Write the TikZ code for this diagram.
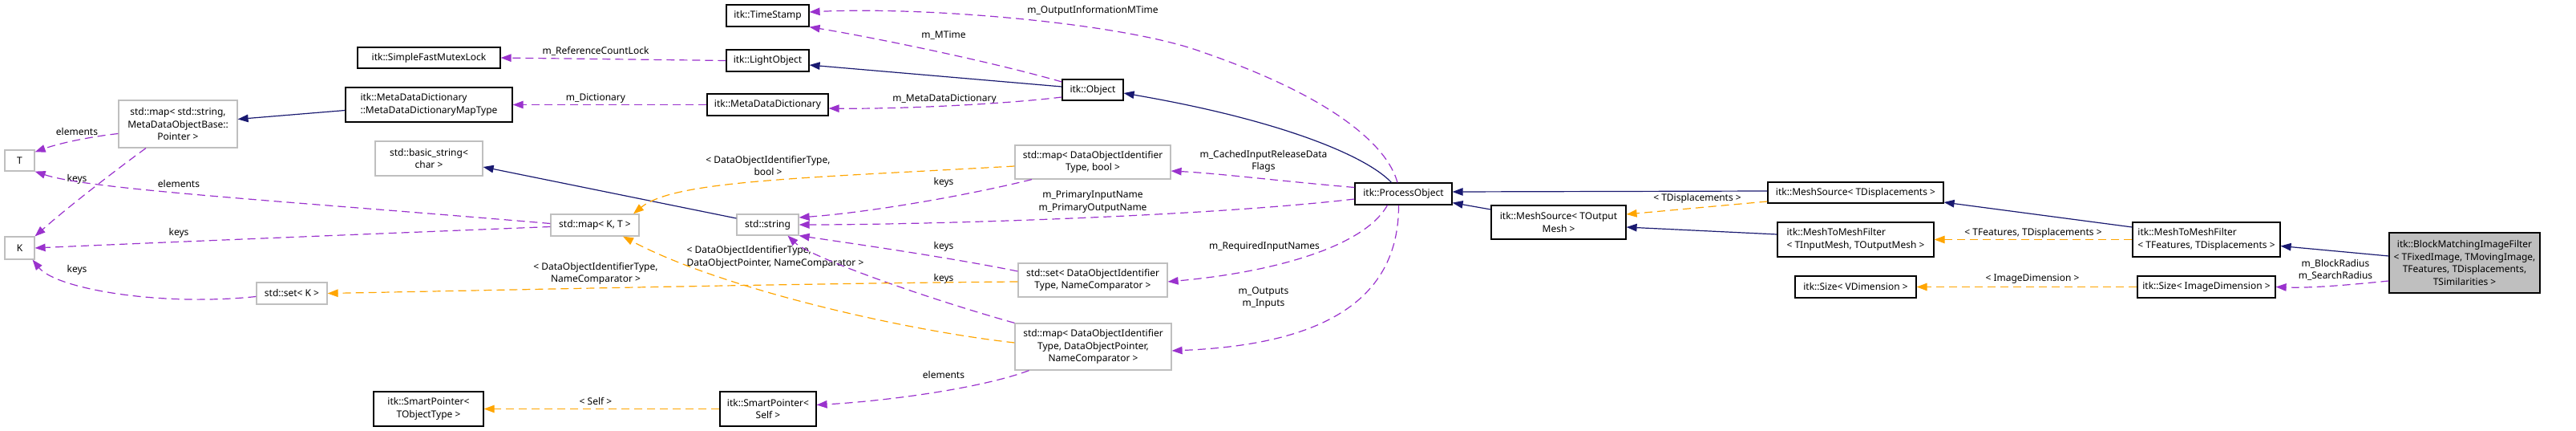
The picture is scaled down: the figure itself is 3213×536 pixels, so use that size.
\documentclass[tikz,border=0pt]{standalone}
\usepackage{fontspec}
\setmainfont{Noto Sans}
\usetikzlibrary{arrows.meta}
\definecolor{edgeP}{HTML}{9A32CD}
\definecolor{edgeO}{HTML}{FFA500}
\definecolor{edgeB}{HTML}{191970}
\definecolor{grayB}{HTML}{BFBFBF}
\begin{document}
\begin{tikzpicture}[x=1pt,y=-1pt,
  every node/.style={font=\fontsize{12pt}{15.5pt}\selectfont, inner sep=0pt},
  cls/.style={draw=black, line width=1.2pt, fill=white, align=center},
  ext/.style={cls, draw=grayB},
  lbl/.style={align=center},
  usedge/.style={draw=edgeP, line width=1.2pt, dash pattern=on 10pt off 6pt, -{Triangle[length=13pt,width=9.5pt]}},
  tpledge/.style={usedge, draw=edgeO},
  inhedge/.style={draw=edgeB, line width=1.2pt, -{Triangle[length=13pt,width=9.5pt]}},
]
\useasboundingbox (0,0) rectangle (3213,536);

% nodes
\node[ext, minimum width=37pt, minimum height=26pt] (T) at (24.5,200) {T};
\node[ext, minimum width=37pt, minimum height=28pt] (K) at (24.5,309) {K};
\node[ext, minimum width=148pt, minimum height=59pt] (mapstr) at (222,154.5) {std::map< std::string,\\MetaDataObjectBase::\\Pointer >};
\node[ext, minimum width=88pt, minimum height=27pt] (setK) at (364,365.5) {std::set< K >};
\node[cls, minimum width=178pt, minimum height=26pt] (sfml) at (535,72) {itk::SimpleFastMutexLock};
\node[cls, minimum width=208pt, minimum height=43pt, align=left] (mddmap) at (535,130.5) {itk::MetaDataDictionary\\::MetaDataDictionaryMapType};
\node[ext, minimum width=134pt, minimum height=43pt] (bstr) at (535,197.5) {std::basic\_string<\\char >};
\node[cls, minimum width=137pt, minimum height=43pt] (spT) at (534.5,509.5) {itk::SmartPointer<\\TObjectType >};
\node[ext, minimum width=110pt, minimum height=27pt] (mapKT) at (742,280.5) {std::map< K, T >};
\node[cls, minimum width=103pt, minimum height=27pt] (ts) at (957.5,19.5) {itk::TimeStamp};
\node[cls, minimum width=103pt, minimum height=27pt] (lo) at (957.5,75.5) {itk::LightObject};
\node[cls, minimum width=151pt, minimum height=27pt] (mdd) at (957.5,130.5) {itk::MetaDataDictionary};
\node[ext, minimum width=77pt, minimum height=26pt] (str) at (957.5,280) {std::string};
\node[cls, minimum width=120pt, minimum height=43pt] (spS) at (958,509.5) {itk::SmartPointer<\\Self >};
\node[cls, minimum width=76pt, minimum height=26pt] (obj) at (1363,112) {itk::Object};
\node[ext, minimum width=194pt, minimum height=42pt] (mapb) at (1363,202) {std::map< DataObjectIdentifier\\Type, bool >};
\node[ext, minimum width=186pt, minimum height=42pt] (setD) at (1363,349) {std::set< DataObjectIdentifier\\Type, NameComparator >};
\node[ext, minimum width=195pt, minimum height=58pt] (mapD) at (1363.5,432) {std::map< DataObjectIdentifier\\Type, DataObjectPointer,\\NameComparator >};
\node[cls, minimum width=121pt, minimum height=27pt] (po) at (1750.5,241.5) {itk::ProcessObject};
\node[cls, minimum width=168pt, minimum height=42pt] (msO) at (1944,277) {itk::MeshSource< TOutput\\Mesh >};
\node[cls, minimum width=219pt, minimum height=26pt] (msD) at (2314.5,240) {itk::MeshSource< TDisplacements >};
\node[cls, minimum width=195pt, minimum height=43pt, align=left] (mtmfI) at (2314.5,298.5) {itk::MeshToMeshFilter\\< TInputMesh, TOutputMesh >};
\node[cls, minimum width=151pt, minimum height=27pt] (sizeV) at (2314.5,357.5) {itk::Size< VDimension >};
\node[cls, minimum width=184pt, minimum height=43pt, align=left] (mtmfF) at (2752,298.5) {itk::MeshToMeshFilter\\< TFeatures, TDisplacements >};
\node[cls, minimum width=172pt, minimum height=27pt] (sizeI) at (2752,357.5) {itk::Size< ImageDimension >};
\node[cls, fill=grayB, minimum width=188pt, minimum height=75pt] (bm) at (3074,327.5) {itk::BlockMatchingImageFilter\\< TFixedImage, TMovingImage,\\TFeatures, TDisplacements,\\TSimilarities >};

% edge labels
\node[lbl] (l1) at (96,164) {elements};
\node[lbl] (l2) at (96,223) {keys};
\node[lbl] (l3) at (223,229) {elements};
\node[lbl] (l4) at (223,290) {keys};
\node[lbl] (l5) at (96,336) {keys};
\node[lbl] (l6) at (743,64) {m\_ReferenceCountLock};
\node[lbl] (l7) at (743,123) {m\_Dictionary};
\node[lbl] (l8) at (958,206.5) {< DataObjectIdentifierType,\\bool >};
\node[lbl] (l9) at (743,341) {< DataObjectIdentifierType,\\NameComparator >};
\node[lbl, align=left] (l10) at (967,320.5) {< DataObjectIdentifierType,\\DataObjectPointer, NameComparator >};
\node[lbl] (l11) at (743,500) {< Self >};
\node[lbl] (l12) at (1363,13) {m\_OutputInformationMTime};
\node[lbl] (l13) at (1177,44) {m\_MTime};
\node[lbl] (l14) at (1178,124) {m\_MetaDataDictionary};
\node[lbl] (l15) at (1177,227) {keys};
\node[lbl] (l16) at (1576,201) {m\_CachedInputReleaseData\\Flags};
\node[lbl] (l17) at (1363,251.5) {m\_PrimaryInputName\\m\_PrimaryOutputName};
\node[lbl] (l18) at (1177,307) {keys};
\node[lbl] (l19) at (1177,347) {keys};
\node[lbl] (l20) at (1177,467) {elements};
\node[lbl] (l21) at (1577,307) {m\_RequiredInputNames};
\node[lbl] (l22) at (1576,371) {m\_Outputs\\m\_Inputs};
\node[lbl] (l23) at (2117,247) {< TDisplacements >};
\node[lbl] (l24) at (2536,290) {< TFeatures, TDisplacements >};
\node[lbl] (l25) at (2535,348) {< ImageDimension >};
\node[lbl] (l26) at (2913,336.5) {m\_BlockRadius\\m\_SearchRadius};

% edges
\draw[usedge] ([yshift=-12pt]mapstr.west) .. controls (115,170) and (75,178) .. ([yshift=-3pt]T.north east);
\draw[usedge] ([xshift=-40pt]mapstr.south) .. controls (140,215) and (80,262) .. (K.north east);
\draw[usedge] ([yshift=2pt]mapKT.west) .. controls (350,250) and (110,236) .. (T.south east);
\draw[usedge] ([yshift=-2pt]mapKT.west) .. controls (500,290) and (200,302) .. (K.east);
\draw[usedge] ([yshift=-4pt]setK.west) .. controls (200,382) and (70,360) .. ([xshift=-3pt]K.south east);
\draw[inhedge] ([yshift=-7pt]mddmap.west) -- ([yshift=6pt]mapstr.east);
\draw[usedge] (lo.west) -- (sfml.east);
\draw[usedge] (mdd.west) -- (mddmap.east);
\draw[inhedge] ([yshift=8pt]str.west) -- ([yshift=-10.5pt]bstr.east);
\draw[tpledge] ([yshift=-5pt]mapb.west) .. controls (1000,222) and (840,225) .. ([xshift=48pt]mapKT.north);
\draw[usedge] ([yshift=10pt]obj.west) .. controls (1230,75) and (1080,45) .. (ts.south east);
\draw[usedge] ([xshift=-7.5pt]po.north) .. controls (1730,180) and (1660,120) .. (1500,65) .. controls (1400,28) and (1150,8) .. ([yshift=4.5pt]ts.east);
\draw[inhedge] ([yshift=4pt]obj.west) -- ([yshift=-5.5pt]lo.east);
\draw[usedge] ([yshift=-9pt]obj.west) .. controls (1250,130) and (1120,136) .. ([yshift=-4.5pt]mdd.east);
\draw[inhedge] ([xshift=-15pt]po.north) .. controls (1705,195) and (1600,150) .. ([yshift=-4pt]obj.east);
\draw[usedge] ([yshift=8pt]po.west) .. controls (1600,226) and (1520,216) .. ([yshift=-11pt]mapb.east);
\draw[usedge] ([xshift=-76pt]mapb.south) .. controls (1200,245) and (1080,265) .. ([yshift=9pt]str.east);
\draw[usedge] ([yshift=-6.5pt]po.west) .. controls (1500,270) and (1150,280) .. (str.east);
\draw[usedge] ([xshift=-20pt]po.south) .. controls (1700,310) and (1580,340) .. ([yshift=-2pt]setD.east);
\draw[usedge] ([xshift=-6pt]po.south) .. controls (1745,380) and (1640,430) .. ([yshift=-5pt]mapD.east);
\draw[usedge] ([yshift=11pt]setD.west) .. controls (1180,320) and (1060,303) .. (str.south east);
\draw[usedge] (mapD.north west) .. controls (1150,370) and (1010,320) .. ([xshift=25pt]str.south);
\draw[tpledge] ([yshift=-2pt]setD.west) .. controls (1000,353) and (600,362) .. (setK.east);
\draw[tpledge] ([yshift=5pt]mapD.west) .. controls (1130,412) and (900,360) .. ([xshift=35pt]mapKT.south);
\draw[usedge] ([xshift=-80pt]mapD.south) .. controls (1220,485) and (1100,500) .. ([yshift=5pt]spS.east);
\draw[tpledge] (spS.west) -- (spT.east);
\draw[inhedge] ([yshift=16pt]msO.west) -- ([yshift=3pt]po.south east);
\draw[inhedge] ([yshift=2pt]msD.west) -- ([yshift=2.5pt]po.east);
\draw[tpledge] ([yshift=-11pt]msD.west) -- ([yshift=10pt]msO.east);
\draw[inhedge] ([yshift=6.5pt]mtmfI.west) -- ([yshift=-6pt]msO.east);
\draw[inhedge] ([yshift=15.5pt]mtmfF.west) -- ([yshift=-12pt]msD.east);
\draw[tpledge] (mtmfF.west) -- (mtmfI.east);
\draw[inhedge] ([yshift=8.5pt]bm.west) -- ([yshift=-8pt]mtmfF.east);
\draw[tpledge] (sizeI.west) -- (sizeV.east);
\draw[usedge] ([yshift=-22.5pt]bm.west) .. controls (2920,356) and (2880,359) .. (sizeI.east);
\end{tikzpicture}
\end{document}
